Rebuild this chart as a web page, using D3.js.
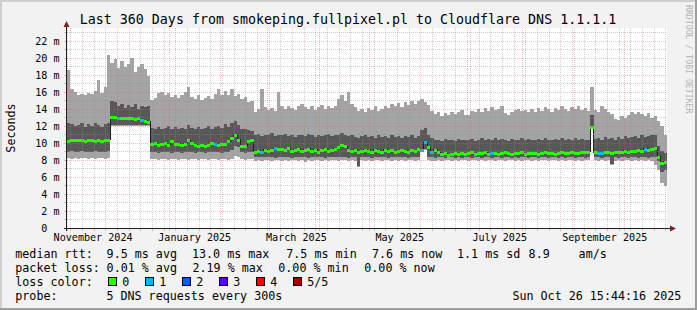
<!DOCTYPE html>
<html>
<head>
<meta charset="utf-8">
<script src="https://cdn.jsdelivr.net/npm/d3@7"></script>
<style>
  html, body { margin: 0; padding: 0; background: #f2f2f2; }
  svg { display: block; }
  text { font-family: "DejaVu Sans Mono", monospace; fill: #000; }
</style>
</head>
<body>
<svg id="chart" width="697" height="310"></svg>
<script>
/**
 * @fileoverview Smokeping style 360 day latency graph, drawn with d3.
 */

// Time span of the graph.
var END_TIME = '2025-10-26 15:44:16';
var SPAN_DAYS = 360;
var BIN_DAYS = 2;

// Round trip per 2-day bin in ms: lowest, 2nd, median, 4th, highest ping.
var pingLow = [
  8.2, 8.1, 8.2, 8.1, 8.2, 8.2, 8.1, 8.2, 8.1, 8.2,
  8.2, 8.1, 8.2, 12.0, 12.0, 12.0, 12.0, 12.0, 12.0, 12.0,
  12.0, 12.0, 12.0, 12.0, 12.0, 8.1, 8.1, 8.0, 8.1, 8.1,
  8.0, 8.1, 8.1, 8.0, 8.1, 8.1, 8.0, 8.1, 8.1, 8.0,
  8.1, 8.1, 8.0, 8.1, 8.1, 8.0, 8.1, 8.1, 8.0, 8.1,
  8.5, 8.4, 8.1, 8.0, 8.1, 8.1, 7.9, 8.0, 7.9, 8.0,
  8.0, 7.9, 8.0, 8.0, 7.9, 8.0, 7.9, 8.0, 8.0, 7.9,
  8.0, 7.8, 8.0, 7.9, 8.0, 8.0, 7.9, 8.0, 7.9, 8.0,
  8.0, 7.9, 8.0, 8.0, 7.9, 8.0, 7.9, 7.2, 8.0, 7.9,
  8.0, 7.9, 8.0, 8.0, 7.9, 8.0, 8.0, 7.9, 8.0, 7.9,
  8.0, 7.9, 8.0, 8.0, 7.9, 8.0, 9.2, 9.2, 8.0, 7.9,
  7.9, 8.0, 7.9, 8.0, 8.0, 7.9, 8.0, 7.9, 8.0, 8.0,
  7.9, 8.0, 8.0, 7.9, 8.0, 7.9, 8.0, 8.0, 7.9, 8.0,
  8.0, 7.9, 8.0, 8.0, 7.9, 8.0, 7.9, 8.0, 8.0, 7.9,
  8.0, 7.9, 8.0, 8.0, 7.9, 8.0, 8.0, 7.9, 8.0, 7.9,
  8.0, 8.0, 7.9, 8.0, 7.9, 8.0, 8.0, 11.7, 8.0, 7.9,
  8.0, 7.9, 8.0, 7.4, 7.9, 8.0, 7.9, 8.0, 8.0, 7.9,
  8.0, 7.9, 8.0, 7.9, 8.0, 7.9, 7.4, 6.8, 5.3, 4.9
];
var pingLowMid = [
  9.0, 9.1, 8.9, 9.0, 9.1, 9.0, 8.9, 9.0, 9.1, 9.0,
  8.9, 9.0, 9.1, 12.1, 12.1, 12.1, 12.1, 12.1, 12.1, 12.1,
  12.1, 12.1, 12.1, 12.1, 12.1, 8.9, 8.9, 8.8, 8.9, 9.0,
  8.9, 8.8, 8.9, 8.9, 8.8, 8.9, 9.0, 8.9, 8.8, 8.9,
  8.9, 8.8, 8.9, 8.9, 9.0, 8.9, 8.8, 8.9, 9.0, 9.2,
  9.7, 9.5, 8.9, 8.8, 8.9, 8.9, 8.4, 8.3, 8.4, 8.3,
  8.4, 8.3, 8.2, 8.3, 8.4, 8.3, 8.3, 8.2, 8.4, 8.3,
  8.3, 8.4, 8.2, 8.3, 8.3, 8.4, 8.3, 8.2, 8.3, 8.4,
  8.3, 8.3, 8.4, 8.3, 8.2, 8.3, 8.3, 7.3, 8.3, 8.4,
  8.3, 8.2, 8.3, 8.3, 8.4, 8.3, 8.2, 8.3, 8.3, 8.4,
  8.3, 8.3, 8.2, 8.3, 8.4, 8.3, 9.3, 9.3, 8.4, 8.3,
  8.2, 8.3, 8.3, 8.2, 8.3, 8.3, 8.2, 8.3, 8.2, 8.3,
  8.3, 8.2, 8.3, 8.3, 8.2, 8.3, 8.3, 8.2, 8.3, 8.3,
  8.2, 8.3, 8.3, 8.2, 8.3, 8.2, 8.3, 8.3, 8.2, 8.3,
  8.3, 8.2, 8.3, 8.3, 8.2, 8.3, 8.3, 8.2, 8.3, 8.2,
  8.3, 8.3, 8.2, 8.3, 8.3, 8.2, 8.3, 11.8, 8.3, 8.3,
  8.2, 8.3, 8.3, 7.5, 8.3, 8.2, 8.3, 8.3, 8.2, 8.3,
  8.3, 8.2, 8.3, 8.3, 8.2, 8.3, 8.4, 7.9, 6.6, 6.8
];
var pingMedian = [
  10.2, 10.4, 10.4, 10.3, 10.4, 10.2, 10.3, 10.3, 10.2, 10.3,
  10.2, 10.3, 10.4, 13.1, 13.1, 13.0, 12.9, 13.0, 12.9, 12.9,
  12.8, 12.9, 12.7, 12.6, 12.5, 9.9, 10.0, 9.8, 9.9, 10.0,
  9.8, 10.2, 9.9, 9.9, 9.8, 9.9, 10.3, 10.0, 9.8, 9.7,
  9.8, 9.6, 9.8, 10.0, 9.9, 9.8, 9.9, 9.9, 10.2, 10.6,
  11.0, 10.4, 9.7, 9.6, 10.2, 10.4, 9.0, 9.1, 9.0, 9.2,
  9.1, 9.2, 9.4, 9.3, 9.3, 9.2, 9.4, 9.1, 9.2, 9.3,
  9.1, 9.2, 9.3, 9.1, 9.2, 9.0, 9.2, 9.3, 9.1, 9.2,
  9.3, 9.5, 9.8, 9.6, 9.2, 9.1, 9.2, 9.0, 9.1, 9.2,
  9.1, 9.0, 9.2, 9.1, 9.0, 9.2, 9.1, 9.2, 9.0, 9.1,
  9.2, 9.1, 9.0, 9.2, 9.1, 9.3, 9.2, 10.1, 9.5, 9.0,
  9.2, 8.9, 8.7, 8.8, 8.6, 8.7, 8.8, 8.7, 8.8, 8.7,
  8.8, 8.9, 8.7, 8.8, 8.8, 8.9, 8.7, 8.8, 8.8, 8.7,
  8.8, 8.9, 8.8, 8.7, 8.8, 8.8, 8.9, 8.7, 8.8, 8.8,
  8.8, 8.7, 8.8, 8.9, 8.8, 8.8, 8.7, 8.8, 8.9, 8.8,
  8.8, 8.9, 8.8, 8.8, 8.9, 8.9, 9.0, 11.9, 8.9, 8.8,
  8.8, 8.9, 8.9, 8.8, 8.9, 9.0, 9.0, 9.1, 9.0, 9.1,
  9.1, 9.2, 9.1, 9.3, 9.2, 9.3, 9.4, 8.4, 7.6, 7.8
];
var pingHighMid = [
  12.4, 12.2, 12.0, 12.1, 12.3, 11.9, 12.2, 12.0, 12.3, 12.1,
  11.9, 12.2, 12.4, 15.0, 14.8, 14.3, 14.6, 14.1, 14.5, 14.2,
  14.6, 14.0, 14.4, 14.2, 14.3, 11.8, 11.6, 11.9, 11.7, 11.8,
  12.0, 11.6, 11.9, 11.7, 11.8, 11.6, 12.1, 11.8, 11.7, 11.9,
  11.6, 11.8, 12.0, 11.7, 11.9, 12.0, 11.8, 12.2, 11.9, 12.4,
  12.6, 12.1, 11.7, 11.6, 11.5, 11.4, 10.9, 11.1, 10.8, 11.0,
  10.9, 11.2, 10.8, 11.0, 10.9, 11.1, 10.8, 11.0, 10.7, 10.9,
  11.0, 10.8, 11.1, 10.9, 10.7, 11.0, 10.8, 10.9, 11.1, 10.8,
  10.9, 11.0, 11.2, 11.0, 10.8, 10.9, 10.7, 10.6, 10.8, 10.9,
  10.7, 10.8, 10.6, 10.9, 10.7, 10.8, 10.6, 10.9, 10.7, 10.8,
  10.6, 10.8, 10.7, 10.9, 10.6, 10.8, 11.5, 11.8, 11.0, 10.6,
  10.3, 10.4, 10.2, 10.5, 10.3, 10.4, 10.2, 10.5, 10.3, 10.4,
  10.3, 10.5, 10.2, 10.4, 10.6, 10.3, 10.5, 10.4, 10.6, 10.3,
  10.5, 10.4, 10.2, 10.5, 10.3, 10.4, 10.6, 10.3, 10.5, 10.4,
  10.3, 10.5, 10.4, 10.6, 10.3, 10.4, 10.5, 10.3, 10.6, 10.4,
  10.5, 10.3, 10.6, 10.4, 10.5, 10.3, 10.4, 13.3, 10.5, 10.6,
  10.4, 10.7, 10.5, 10.6, 10.4, 10.7, 10.5, 10.8, 10.6, 10.7,
  10.8, 10.6, 10.9, 10.7, 10.8, 11.0, 10.9, 9.7, 9.1, 8.8
];
var pingHigh = [
  18.6, 16.4, 16.0, 15.7, 15.8, 15.7, 15.9, 15.8, 16.1, 17.4,
  15.9, 16.6, 20.3, 19.4, 19.9, 18.8, 19.6, 18.9, 19.3, 20.0,
  18.4, 19.0, 19.3, 18.7, 17.9, 15.1, 15.3, 15.9, 16.0, 15.6,
  15.9, 15.4, 15.7, 15.3, 15.6, 16.0, 16.6, 15.4, 15.2, 15.6,
  15.1, 15.3, 15.5, 15.2, 15.8, 16.3, 15.7, 16.1, 15.6, 16.4,
  15.5, 15.8, 15.2, 15.4, 14.8, 15.0, 13.6, 14.0, 16.3, 14.2,
  13.9, 14.1, 13.8, 16.0, 14.3, 14.0, 14.4, 14.1, 13.9, 14.3,
  14.6, 14.2, 14.0, 14.4, 13.9, 14.2, 14.5, 14.0, 14.3, 14.1,
  14.4, 15.2, 15.6, 15.0, 16.0, 14.6, 14.2, 13.8, 14.0, 13.7,
  14.1, 13.9, 14.3, 13.8, 14.0, 14.4, 14.1, 14.6, 14.3, 14.7,
  14.2, 14.8, 14.5, 15.0, 14.6, 14.9, 15.2, 14.8, 14.5, 13.8,
  13.4, 13.6, 13.2, 13.5, 13.3, 13.7, 13.4, 13.6, 13.9, 13.3,
  13.3, 13.8, 13.6, 14.0, 13.7, 14.1, 13.8, 14.2, 13.9, 14.0,
  14.3, 13.5, 13.3, 13.7, 13.9, 14.0, 13.8, 13.9, 13.6, 14.0,
  13.7, 14.1, 13.8, 14.2, 14.0, 13.7, 14.1, 13.9, 14.3, 14.0,
  13.8, 14.2, 14.0, 14.4, 13.9, 14.1, 13.8, 16.6, 13.9, 13.6,
  14.3, 14.0, 13.7, 13.4, 12.8, 12.7, 13.2, 12.9, 13.3, 13.6,
  13.4, 13.7, 13.4, 13.2, 13.5, 13.0, 13.2, 12.6, 12.0, 11.0
];
// Lost pings (of 5) per bin.
var pingLoss = [
  0, 0, 0, 0, 0, 0, 0, 0, 0, 0,
  0, 0, 0, 0, 0, 1, 0, 0, 0, 0,
  0, 0, 1, 0, 0, 0, 0, 0, 0, 0,
  0, 0, 0, 0, 0, 0, 0, 0, 0, 0,
  0, 0, 0, 0, 1, 0, 0, 0, 0, 0,
  0, 0, 0, 0, 0, 0, 0, 0, 1, 0,
  0, 0, 1, 0, 0, 0, 0, 0, 0, 0,
  0, 0, 0, 0, 0, 0, 0, 0, 0, 0,
  0, 0, 0, 0, 0, 0, 0, 0, 0, 0,
  0, 0, 0, 0, 0, 0, 0, 0, 0, 0,
  0, 0, 0, 0, 0, 0, 1, 1, 0, 1,
  0, 0, 0, 0, 0, 0, 0, 0, 0, 0,
  0, 0, 0, 0, 0, 0, 0, 1, 0, 0,
  0, 0, 0, 0, 0, 0, 0, 0, 0, 0,
  0, 0, 0, 0, 0, 0, 0, 0, 0, 0,
  0, 0, 0, 0, 0, 0, 0, 0, 0, 1,
  1, 0, 0, 0, 0, 0, 0, 0, 0, 0,
  0, 0, 0, 1, 0, 0, 0, 0, 0, 0
];

// Axis ticks and labels.
var yTicks = [0, 2, 4, 6, 8, 10, 12, 14, 16, 18, 20, 22];
var xLabelDays = ['2024-11-16', '2025-01-16', '2025-03-18', '2025-05-19',
                  '2025-07-18', '2025-09-19'];

// Legend content.
var rttStats = ['9.5 ms avg', '13.0 ms max', '7.5 ms min', '7.6 ms now',
                '1.1 ms sd', '8.9', 'am/s'];
var lossStats = ['0.01 % avg', '2.19 % max', '0.00 % min', '0.00 % now'];
var lossNames = ['0', '1', '2', '3', '4', '5/5'];
var lossColors = ['#26ff00', '#00b8ff', '#0059ff', '#5e00ff', '#ff0000',
                  '#a00000'];
var titleText = 'Last 360 Days from smokeping.fullpixel.pl to Cloudflare DNS 1.1.1.1';
var probeText = '5 DNS requests every 300s';
var stampText = 'Sun Oct 26 15:44:16 2025';


var W = 697, H = 310;
var plot = {left: 67, right: 667, top: 28, bottom: 228};
var AXIS_FONT = 10.1, LEGEND_FONT = 11.7;

var svg = d3.select('#chart');

var endTime = d3.timeParse('%Y-%m-%d %H:%M:%S')(END_TIME);
var startTime = new Date(+endTime - SPAN_DAYS * 864e5);
var binMs = BIN_DAYS * 864e5;

var x = d3.scaleTime().domain([startTime, endTime])
    .range([plot.left, plot.right]);
var y = d3.scaleLinear().domain([0, 23.53])
    .range([plot.bottom, plot.top]);

// One row per bin, plus a closing row at the end for the step curves.
var rows = pingMedian.map(function(m, i) {
  return {
    t: new Date(+startTime + i * binMs),
    t1: new Date(Math.min(+startTime + (i + 1) * binMs, +endTime)),
    lo: pingLow[i], q2: pingLowMid[i], med: m,
    q3: pingHighMid[i], hi: pingHigh[i], loss: pingLoss[i]
  };
});
var stepRows = rows.concat([Object.assign({}, rows[rows.length - 1],
                                          {t: endTime})]);

drawFrame();
drawSmoke();
drawGrid();
drawAxes();
drawLegend();


/** Background, 3d border and white canvas. */
function drawFrame() {
  svg.append('rect').attr('width', W).attr('height', H).attr('fill', '#f2f2f2');
  svg.append('path').attr('fill', '#cfcfcf')
      .attr('d', 'M0,0H' + W + 'V2H2V' + H + 'H0Z');
  svg.append('path').attr('fill', '#9e9e9e')
      .attr('d', 'M' + W + ',0V' + H + 'H0V' + (H - 2) + 'H' + (W - 2) +
                 'V0Z');
  svg.append('rect')
      .attr('x', plot.left).attr('y', plot.top)
      .attr('width', plot.right - plot.left)
      .attr('height', plot.bottom - plot.top)
      .attr('fill', '#fff');
}


/** Smoke bands and the loss coloured median. */
function drawSmoke() {
  var g = svg.append('g').attr('shape-rendering', 'crispEdges');
  var band = function(a, b) {
    return d3.area().curve(d3.curveStepAfter)
        .x(function(d) { return x(d.t); })
        .y0(function(d) { return y(d[a]); })
        .y1(function(d) { return y(d[b]); });
  };
  g.append('path').datum(stepRows).attr('fill', '#a4a4a4')
      .attr('d', band('lo', 'hi'));
  g.append('path').datum(stepRows).attr('fill', '#585858')
      .attr('d', band('q2', 'q3'));

  g.append('path').datum(stepRows)
      .attr('fill', 'none').attr('stroke', '#202020').attr('stroke-width', 1)
      .attr('d', d3.line().curve(d3.curveStepAfter)
          .x(function(d) { return x(d.t); })
          .y(function(d) { return y(d.med); }));

  g.selectAll('rect.med').data(rows).join('rect')
      .attr('class', 'med')
      .attr('x', function(d) { return x(d.t); })
      .attr('width', function(d) { return x(d.t1) - x(d.t); })
      .attr('y', function(d) { return Math.round(y(d.med)) - 1.5; })
      .attr('height', 3)
      .attr('fill', function(d) { return lossColors[d.loss]; });
}


/** Dotted minor and major grid on top of the data. */
function drawGrid() {
  var g = svg.append('g').attr('shape-rendering', 'crispEdges');
  var months = d3.timeMonth.range(startTime, endTime);
  var majorSet = new Set(months.map(Number));
  var weeks = d3.timeSunday.range(startTime, endTime).filter(function(d) {
    return !majorSet.has(+d);
  });
  var minorY = d3.range(1, 24).filter(function(v) { return v % 2; });
  var majorY = yTicks.filter(function(v) { return v > 0; });

  var px = function(v) { return Math.floor(v) + 0.5; };

  var vLines = function(list, color, op) {
    g.selectAll(null).data(list).join('line')
        .attr('x1', function(d) { return px(x(d)); })
        .attr('x2', function(d) { return px(x(d)); })
        .attr('y1', plot.top).attr('y2', plot.bottom)
        .attr('stroke', color).attr('stroke-opacity', op)
        .attr('stroke-dasharray', '1,1');
    g.selectAll(null).data(list).join('line')
        .attr('x1', function(d) { return px(x(d)); })
        .attr('x2', function(d) { return px(x(d)); })
        .attr('y1', plot.bottom).attr('y2', plot.bottom + 3)
        .attr('stroke', color).attr('stroke-opacity', op);
  };
  var hLines = function(list, color, op) {
    g.selectAll(null).data(list).join('line')
        .attr('y1', function(d) { return px(y(d)); })
        .attr('y2', function(d) { return px(y(d)); })
        .attr('x1', plot.left).attr('x2', plot.right)
        .attr('stroke', color).attr('stroke-opacity', op)
        .attr('stroke-dasharray', '1,1');
    g.selectAll(null).data(list).join('line')
        .attr('y1', function(d) { return px(y(d)); })
        .attr('y2', function(d) { return px(y(d)); })
        .attr('x1', plot.left - 3).attr('x2', plot.left)
        .attr('stroke', color).attr('stroke-opacity', op);
  };

  vLines(weeks, '#8f8f8f', 0.45);
  hLines(minorY, '#8f8f8f', 0.45);
  vLines(months, '#e06060', 0.4);
  hLines(majorY, '#e06060', 0.4);
}


/** Axis lines with arrows, tick labels, title and side texts. */
function drawAxes() {
  var g = svg.append('g');
  g.append('line').attr('shape-rendering', 'crispEdges')
      .attr('x1', plot.left - 3).attr('x2', plot.right + 4)
      .attr('y1', plot.bottom + 0.5).attr('y2', plot.bottom + 0.5)
      .attr('stroke', '#1f1f1f');
  g.append('line').attr('shape-rendering', 'crispEdges')
      .attr('x1', plot.left - 0.5).attr('x2', plot.left - 0.5)
      .attr('y1', plot.bottom + 3).attr('y2', plot.top - 2)
      .attr('stroke', '#1f1f1f');
  g.append('path').attr('fill', '#801f1f')
      .attr('d', 'M' + (plot.right + 3) + ',' + (plot.bottom - 2.5) +
                 'L' + (plot.right + 9) + ',' + (plot.bottom + 0.5) +
                 'L' + (plot.right + 3) + ',' + (plot.bottom + 3.5) + 'Z');
  g.append('path').attr('fill', '#801f1f')
      .attr('d', 'M' + (plot.left - 3.5) + ',' + (plot.top - 1) +
                 'L' + (plot.left - 0.5) + ',' + (plot.top - 7) +
                 'L' + (plot.left + 2.5) + ',' + (plot.top - 1) + 'Z');

  var yAxis = d3.axisLeft(y).tickValues(yTicks).tickSize(0).tickPadding(7)
      .tickFormat(function(d) { return d ? d + ' m' : '0\u00a0\u00a0'; });
  var gy = svg.append('g')
      .attr('transform', 'translate(' + (plot.left - 0.5) + ',0)')
      .call(yAxis);
  gy.select('.domain').remove();
  gy.attr('font-family', null).attr('font-size', AXIS_FONT);

  var parseDay = d3.timeParse('%Y-%m-%d');
  var xAxis = d3.axisBottom(x).tickValues(xLabelDays.map(parseDay))
      .tickSize(0).tickPadding(6)
      .tickFormat(d3.timeFormat('%B %Y'));
  var gx = svg.append('g')
      .attr('transform', 'translate(0,' + plot.bottom + ')')
      .call(xAxis);
  gx.select('.domain').remove();
  gx.attr('font-family', null).attr('font-size', AXIS_FONT);

  svg.append('text')
      .attr('x', 348).attr('y', 24)
      .attr('text-anchor', 'middle').attr('font-size', 13.3)
      .text(titleText);

  svg.append('text')
      .attr('transform', 'translate(14.5,' + (plot.top + plot.bottom) / 2 +
                         ') rotate(-90)')
      .attr('text-anchor', 'middle').attr('font-size', LEGEND_FONT)
      .text('Seconds');

  svg.append('text')
      .attr('transform', 'translate(685.5,5) rotate(90)')
      .attr('font-size', 8.2).style('fill', '#b4b4b4')
      .text('RRDTOOL / TOBI OETIKER');
}


/** Statistics rows and loss colour legend below the plot. */
function drawLegend() {
  var g = svg.append('g').attr('font-size', LEGEND_FONT);
  var rowY = [258.3, 272.3, 286.3, 300.3];
  var rttX = [106.6, 192, 286.3, 372, 457, 528.6, 578.6];
  var lossX = [106.6, 192.5, 278.3, 364.3];

  var put = function(txt, px, py, anchor) {
    g.append('text').attr('x', px).attr('y', py)
        .attr('text-anchor', anchor || 'start')
        .style('white-space', 'pre').text(txt);
  };

  put('median rtt:', 15.3, rowY[0]);
  rttStats.forEach(function(s, i) { put(s, rttX[i], rowY[0]); });
  put('packet loss:', 15.3, rowY[1]);
  lossStats.forEach(function(s, i) { put(s, lossX[i], rowY[1]); });
  put('loss color:', 15.3, rowY[2]);
  put('probe:', 15.3, rowY[3]);
  put(probeText, 106.4, rowY[3]);
  put(stampText, 681.3, rowY[3], 'end');

  var items = g.selectAll('g.loss').data(lossNames).join('g')
      .attr('class', 'loss')
      .attr('transform', function(d, i) {
        return 'translate(' + (108.3 + 37 * i) + ',0)';
      });
  items.append('rect')
      .attr('x', 0.5).attr('y', 277.5).attr('width', 8).attr('height', 8)
      .attr('shape-rendering', 'crispEdges')
      .attr('fill', function(d, i) { return lossColors[i]; })
      .attr('stroke', '#000');
  items.append('text').attr('x', 14).attr('y', rowY[2])
      .text(function(d) { return d; });
}
</script>
</body>
</html>
